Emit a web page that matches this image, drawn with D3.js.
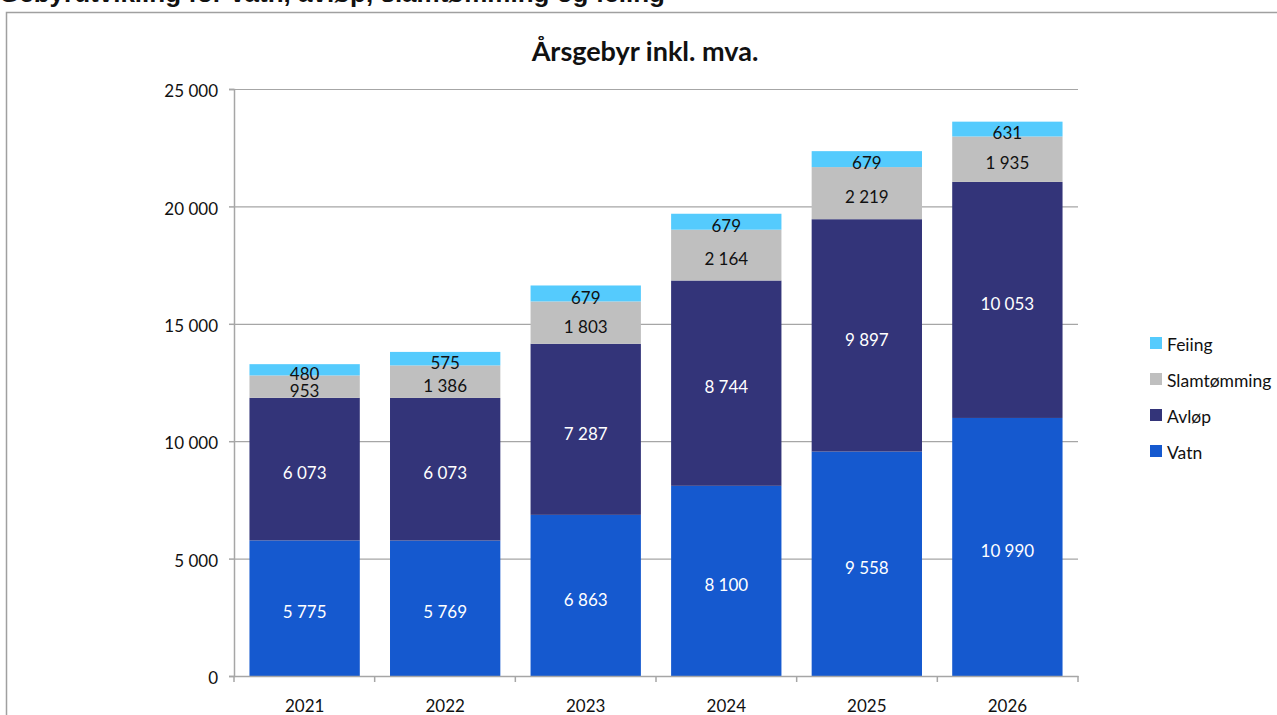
<!DOCTYPE html>
<html>
<head>
<meta charset="utf-8">
<script src="https://cdn.jsdelivr.net/npm/d3@7"></script>
<style>
  body { margin: 0; background: #fff; }
  svg { display: block; font-family: "Lato", "Open Sans", sans-serif; }
</style>
</head>
<body>
<svg width="1277" height="715"></svg>
<script>
var years = ["2021", "2022", "2023", "2024", "2025", "2026"];
var vatn = [5775, 5769, 6863, 8100, 9558, 10990];
var avlop = [6073, 6073, 7287, 8744, 9897, 10053];
var slam = [953, 1386, 1803, 2164, 2219, 1935];
var feiing = [480, 575, 679, 679, 679, 631];
var yTicks = [0, 5000, 10000, 15000, 20000, 25000];

var seriesNames = ["Vatn", "Avløp", "Slamtømming", "Feiing"];
var seriesColors = ["#1559cf", "#333479", "#bfbfbf", "#55cbfd"];
var labelColors = ["#fff", "#fff", "#111", "#111"];

var svg = d3.select("svg");

var fmt = function(v) {
  return d3.format(",")(v).replace(/,/g, " ");
};

// page heading, cut off at the top
svg.append("text")
    .attr("x", 665)
    .attr("y", 2)
    .attr("text-anchor", "end")
    .attr("font-family", "Liberation Sans, Arial, sans-serif")
    .attr("font-weight", "bold")
    .attr("font-size", 26)
    .attr("fill", "#111")
    .text("Gebyrutvikling for vatn, avløp, slamtømming og feiing");

// chart frame
svg.append("rect")
    .attr("x", 6.5)
    .attr("y", 12.5)
    .attr("width", 1300)
    .attr("height", 720)
    .attr("fill", "none")
    .attr("stroke", "#a0a0a0")
    .attr("stroke-width", 1.5);

svg.append("text")
    .attr("x", 645)
    .attr("y", 61)
    .attr("text-anchor", "middle")
    .attr("font-weight", "bold")
    .attr("font-size", 27)
    .attr("fill", "#111")
    .text("Årsgebyr inkl. mva.");

var plotLeft = 234, plotRight = 1078, plotTop = 89, plotBottom = 676;

var x = d3.scaleBand().domain(years).range([plotLeft, plotRight]).paddingInner(0.215).paddingOuter(0.11);
var y = d3.scaleLinear().domain([0, 25000]).range([plotBottom, plotTop]);

// gridlines
svg.append("g")
  .selectAll("line")
  .data(yTicks.slice(1))
  .enter().append("line")
    .attr("x1", plotLeft).attr("x2", plotRight)
    .attr("y1", function(d) { return y(d) + 0.5; })
    .attr("y2", function(d) { return y(d) + 0.5; })
    .attr("stroke", "#a6a6a6")
    .attr("stroke-width", 1.2);

var rows = years.map(function(yr, i) {
  return { year: yr, Vatn: vatn[i], "Avløp": avlop[i], "Slamtømming": slam[i], Feiing: feiing[i] };
});
var stack = d3.stack().keys(seriesNames)(rows);

var layer = svg.append("g").selectAll("g")
  .data(stack)
  .enter().append("g")
    .attr("fill", function(d, i) { return seriesColors[i]; });

layer.selectAll("rect")
  .data(function(d) { return d; })
  .enter().append("rect")
    .attr("x", function(d) { return x(d.data.year); })
    .attr("width", x.bandwidth())
    .attr("y", function(d) { return y(d[1]); })
    .attr("height", function(d) { return y(d[0]) - y(d[1]); });

layer.each(function(s, si) {
  d3.select(this).selectAll("text")
    .data(s)
    .enter().append("text")
      .attr("x", function(d) { return x(d.data.year) + x.bandwidth() / 2; })
      .attr("y", function(d) { return (y(d[0]) + y(d[1])) / 2; })
      .attr("dy", "0.6em")
      .attr("text-anchor", "middle")
      .attr("font-size", 17)
      .attr("fill", labelColors[si])
      .text(function(d) { return fmt(d[1] - d[0]); });
});

// axes
var yAxis = d3.axisLeft(y).tickValues(yTicks).tickSize(5).tickPadding(11).tickFormat(fmt);
var gy = svg.append("g").attr("transform", "translate(" + plotLeft + ",0)").call(yAxis);
gy.select(".domain").attr("stroke", "#a6a6a6").attr("stroke-width", 1.5);
gy.selectAll(".tick line").attr("stroke", "#a6a6a6").attr("stroke-width", 1.5);
gy.selectAll("text").attr("font-size", 17).attr("fill", "#111").attr("font-family", "Lato, sans-serif").attr("dy", "0.45em");

var xAxis = d3.axisBottom(x).tickSize(0).tickPadding(24);
var gx = svg.append("g").attr("transform", "translate(0," + plotBottom + ")").call(xAxis);
gx.select(".domain").attr("stroke", "#a6a6a6").attr("stroke-width", 1.5);
gx.selectAll("text").attr("font-size", 17).attr("fill", "#111").attr("font-family", "Lato, sans-serif");

// category boundary ticks
svg.append("g").selectAll("line")
  .data(d3.range(years.length + 1))
  .enter().append("line")
    .attr("x1", function(i) { return plotLeft + (plotRight - plotLeft) * i / years.length; })
    .attr("x2", function(i) { return plotLeft + (plotRight - plotLeft) * i / years.length; })
    .attr("y1", plotBottom).attr("y2", plotBottom + 6)
    .attr("stroke", "#a6a6a6").attr("stroke-width", 1.5);

// legend
var legendOrder = [3, 2, 1, 0];
var lg = svg.append("g").selectAll("g")
  .data(legendOrder)
  .enter().append("g")
    .attr("transform", function(d, i) { return "translate(1150," + (337 + i * 36) + ")"; });
lg.append("rect")
    .attr("width", 12).attr("height", 12)
    .attr("fill", function(d) { return seriesColors[d]; });
lg.append("text")
    .attr("x", 17).attr("y", 7).attr("dy", "0.4em")
    .attr("font-size", 17.5).attr("fill", "#111")
    .text(function(d) { return seriesNames[d]; });
</script>
</body>
</html>
